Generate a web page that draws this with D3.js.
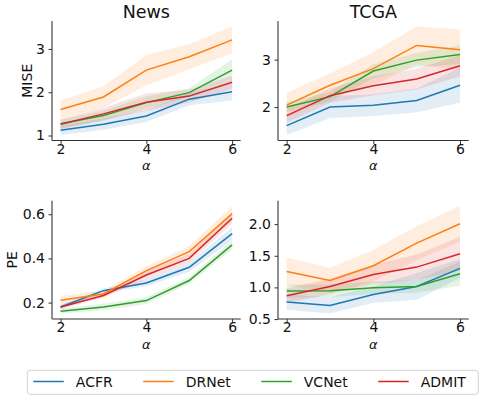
<!DOCTYPE html>
<html>
<head>
<meta charset="utf-8">
<script src="https://cdn.jsdelivr.net/npm/d3@7"></script>
<style>
  html, body { margin: 0; padding: 0; background: #fff; }
  svg { display: block; font-family: "DejaVu Sans", sans-serif; }
</style>
</head>
<body>
<svg id="chart" width="484" height="399"></svg>
<script>
// ---------------- data ----------------
const alphas = [2, 3, 4, 5, 6];
const methods = ["ACFR", "DRNet", "VCNet", "ADMIT"];
const xTicks = [2, 4, 6];

// News – MISE (rows follow `methods`)
const newsMiseMean = [
  [1.12, 1.26, 1.45, 1.84, 2.01],
  [1.60, 1.89, 2.51, 2.82, 3.21],
  [1.27, 1.46, 1.76, 1.99, 2.51],
  [1.26, 1.50, 1.77, 1.91, 2.23]
];
const newsMiseErr = [
  [0.11, 0.13, 0.14, 0.14, 0.20],
  [0.21, 0.25, 0.35, 0.29, 0.31],
  [0.10, 0.12, 0.14, 0.10, 0.25],
  [0.12, 0.14, 0.20, 0.15, 0.15]
];
const newsMiseTicks = [1, 2, 3];

// TCGA – MISE
const tcgaMiseMean = [
  [1.61, 2.00, 2.04, 2.14, 2.46],
  [2.04, 2.46, 2.81, 3.30, 3.21],
  [2.00, 2.22, 2.76, 2.99, 3.11],
  [1.82, 2.24, 2.45, 2.59, 2.87]
];
const tcgaMiseErr = [
  [0.20, 0.23, 0.23, 0.25, 0.37],
  [0.26, 0.25, 0.35, 0.40, 0.43],
  [0.10, 0.10, 0.15, 0.15, 0.20],
  [0.15, 0.15, 0.20, 0.22, 0.22]
];
const tcgaMiseTicks = [2, 3];

// News – PE
const newsPeMean = [
  [0.180, 0.254, 0.289, 0.360, 0.512],
  [0.211, 0.239, 0.345, 0.431, 0.603],
  [0.161, 0.180, 0.209, 0.300, 0.461],
  [0.180, 0.232, 0.325, 0.400, 0.582]
];
const newsPeErr = [
  [0.010, 0.010, 0.015, 0.020, 0.030],
  [0.020, 0.015, 0.020, 0.025, 0.034],
  [0.011, 0.015, 0.015, 0.015, 0.020],
  [0.010, 0.010, 0.020, 0.020, 0.025]
];
const newsPeTicks = [0.2, 0.4, 0.6];

// TCGA – PE
const tcgaPeMean = [
  [0.768, 0.716, 0.889, 1.016, 1.300],
  [1.253, 1.110, 1.342, 1.700, 2.005],
  [0.942, 0.947, 0.995, 1.016, 1.216],
  [0.868, 1.016, 1.205, 1.321, 1.532]
];
const tcgaPeErr = [
  [0.12, 0.13, 0.13, 0.21, 0.15],
  [0.22, 0.20, 0.25, 0.27, 0.28],
  [0.10, 0.10, 0.10, 0.10, 0.19],
  [0.12, 0.12, 0.15, 0.20, 0.27]
];
const tcgaPeTicks = [0.5, 1.0, 1.5, 2.0];

// ---------------- style ----------------
const colors = ["#1f77b4", "#ff7f0e", "#2ca02c", "#d62728"];
const svg = d3.select("#chart");
const FONT = 14;
const textColor = "#111";
const spineColor = "#333";

const panels = [
  { mean: newsMiseMean, err: newsMiseErr, ticks: newsMiseTicks, fmt: d3.format("d"),
    title: "News", ylabel: "MISE", x0: 52, x1: 240.7, y0: 140.5, y1: 21, ylabX: 31.5 },
  { mean: tcgaMiseMean, err: tcgaMiseErr, ticks: tcgaMiseTicks, fmt: d3.format("d"),
    title: "TCGA", ylabel: null, x0: 278, x1: 468.7, y0: 140.5, y1: 21 },
  { mean: newsPeMean, err: newsPeErr, ticks: newsPeTicks, fmt: d3.format(".1f"),
    title: null, ylabel: "PE", x0: 52, x1: 240.7, y0: 319, y1: 200.7, ylabX: 16.5 },
  { mean: tcgaPeMean, err: tcgaPeErr, ticks: tcgaPeTicks, fmt: d3.format(".1f"),
    title: null, ylabel: null, x0: 278, x1: 468.7, y0: 319, y1: 200.7 }
];

panels.forEach(p => {
  // y extent from the bands, 5% margins (matplotlib autoscale)
  let lo = Infinity, hi = -Infinity;
  p.mean.forEach((row, i) => row.forEach((v, j) => {
    lo = Math.min(lo, v - p.err[i][j]);
    hi = Math.max(hi, v + p.err[i][j]);
  }));
  const pad = (hi - lo) * 0.05;
  const x = d3.scaleLinear().domain([1.8, 6.2]).range([p.x0, p.x1]);
  const y = d3.scaleLinear().domain([lo - pad, hi + pad]).range([p.y0, p.y1]);

  const g = svg.append("g");

  // bands
  p.mean.forEach((row, i) => {
    const pts = alphas.map((a, j) => ({ a, m: row[j], e: p.err[i][j] }));
    g.append("path")
      .datum(pts)
      .attr("fill", colors[i])
      .attr("fill-opacity", 0.13)
      .attr("d", d3.area().x(d => x(d.a)).y0(d => y(d.m - d.e)).y1(d => y(d.m + d.e)));
  });
  // lines
  p.mean.forEach((row, i) => {
    const pts = alphas.map((a, j) => ({ a, m: row[j] }));
    g.append("path")
      .datum(pts)
      .attr("fill", "none")
      .attr("stroke", colors[i])
      .attr("stroke-width", 1.5)
      .attr("d", d3.line().x(d => x(d.a)).y(d => y(d.m)));
  });

  // axes
  const xAxis = g.append("g")
    .attr("transform", `translate(0,${p.y0})`)
    .call(d3.axisBottom(x).tickValues(xTicks).tickSize(3.5).tickPadding(0).tickFormat(d3.format("d")));
  const yAxis = g.append("g")
    .attr("transform", `translate(${p.x0},0)`)
    .call(d3.axisLeft(y).tickValues(p.ticks).tickSize(3.5).tickPadding(3.5).tickFormat(p.fmt));
  [xAxis, yAxis].forEach(ax => {
    ax.select(".domain").attr("stroke", spineColor).attr("stroke-width", 1.1);
    ax.selectAll(".tick line").attr("stroke", spineColor).attr("stroke-width", 1);
    ax.selectAll(".tick text").attr("fill", textColor)
      .style("font-size", FONT + "px").style("font-family", "DejaVu Sans");
  });
  // spines only span the axes area (no outer ticks)
  xAxis.select(".domain").attr("d", `M${p.x0},0H${p.x1}`);
  yAxis.select(".domain").attr("d", `M0,${p.y0}V${p.y1}`);

  // x label
  g.append("text")
    .attr("x", (p.x0 + p.x1) / 2)
    .attr("y", p.y0 + 29.5)
    .attr("text-anchor", "middle")
    .style("font-size", "13px")
    .style("font-style", "italic")
    .attr("fill", textColor)
    .text("α");

  if (p.title) {
    g.append("text")
      .attr("x", (p.x0 + p.x1) / 2)
      .attr("y", 17.5)
      .attr("text-anchor", "middle")
      .style("font-size", "17.5px")
      .attr("fill", textColor)
      .text(p.title);
  }
  if (p.ylabel) {
    g.append("text")
      .attr("transform", `translate(${p.ylabX},${(p.y0 + p.y1) / 2}) rotate(-90)`)
      .attr("text-anchor", "middle")
      .style("font-size", FONT + "px")
      .attr("fill", textColor)
      .text(p.ylabel);
  }
});

// ---------------- legend ----------------
const leg = svg.append("g");
leg.append("rect")
  .attr("x", 27.3).attr("y", 370.3)
  .attr("width", 451).attr("height", 24)
  .attr("rx", 3).attr("ry", 3)
  .attr("fill", "#fff").attr("fill-opacity", 0.8)
  .attr("stroke", "#d0d0d0").attr("stroke-width", 1);

let lx = 33.3;
methods.forEach((m, i) => {
  leg.append("line")
    .attr("x1", lx).attr("x2", lx + 30.5)
    .attr("y1", 381.5).attr("y2", 381.5)
    .attr("stroke", colors[i]).attr("stroke-width", 1.5);
  const t = leg.append("text")
    .attr("x", lx + 42.5).attr("y", 386.5)
    .style("font-size", FONT + "px")
    .attr("fill", textColor)
    .text(m);
  const w = t.node().getComputedTextLength();
  lx = lx + 42.5 + w + 30.5;
});
</script>
</body>
</html>
